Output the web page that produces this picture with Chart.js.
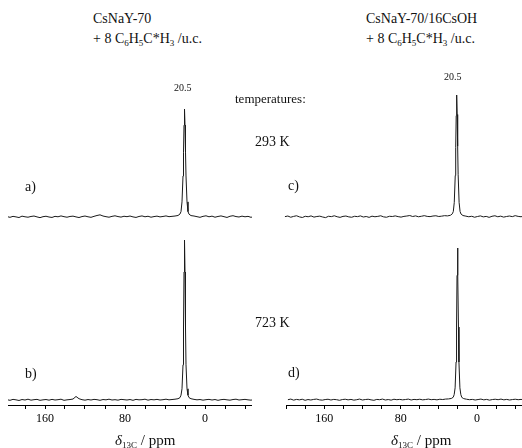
<!DOCTYPE html>
<html>
<head>
<meta charset="UTF-8">
<title>13C MAS NMR</title>
<script src="https://cdn.jsdelivr.net/npm/chart.js"></script>
<style>
    body { margin: 0; background: #fff; }
    #wrap { position: relative; width: 522px; height: 448px; overflow: hidden; }
    canvas { position: absolute; }
    .t { position: absolute; font-family: "Liberation Serif", "Times New Roman", serif; font-size: 14px; line-height: 16px; color: #111; white-space: nowrap; }
    .t sub { font-size: 9px; line-height: 0; vertical-align: -3px; }
    .small { font-size: 10px; line-height: 12px; }
</style>
</head>
<body>
<div id="wrap">
    <canvas id="chartA" width="244" height="170" style="left:8px; top:60px"></canvas>
    <canvas id="chartB" width="244" height="208" style="left:8px; top:232px"></canvas>
    <canvas id="chartC" width="239" height="170" style="left:283px; top:60px"></canvas>
    <canvas id="chartD" width="239" height="208" style="left:283px; top:232px"></canvas>

    <div class="t" style="left:93px; top:11px">CsNaY-70</div>
    <div class="t" style="left:93px; top:31px">+ 8 C<sub>6</sub>H<sub>5</sub>C*H<sub>3</sub> /u.c.</div>
    <div class="t" style="left:366px; top:11px">CsNaY-70/16CsOH</div>
    <div class="t" style="left:366px; top:31px">+ 8 C<sub>6</sub>H<sub>5</sub>C*H<sub>3</sub> /u.c.</div>

    <div class="t small" style="left:174px; top:82px">20.5</div>
    <div class="t small" style="left:444px; top:71px">20.5</div>

    <div class="t" style="left:235px; top:91px; font-size:13px">temperatures:</div>
    <div class="t" style="left:255px; top:134px">293 K</div>
    <div class="t" style="left:255px; top:315px">723 K</div>

    <div class="t" style="left:25px; top:179px">a)</div>
    <div class="t" style="left:25px; top:366px">b)</div>
    <div class="t" style="left:288px; top:178px">c)</div>
    <div class="t" style="left:288px; top:365px">d)</div>

    <div class="t" style="left:115px; top:432px; font-size:15px"><i>&delta;</i><sub>13C</sub> / ppm</div>
    <div class="t" style="left:391px; top:432px; font-size:15px"><i>&delta;</i><sub>13C</sub> / ppm</div>
</div>
<script>
    // chemical shift axis (ppm), shared by all four spectra
    var ppm = [198,195,192,189,186,183,180,177,174,171,
        168,165,162,159,156,153,150,147,144,141,
        138,135,132,129,126,123,120,117,114,111,
        108,105,102,99,96,93,90,87,84,81,
        78,75,72,69,66,63,60,57,54,51,
        48,45,42,39,36,33,30,27,
        25,24,23,22,21.5,21,20.5,20,19.5,19,18,17,16,
        14,11,8,5,2,-1,-4,-7,-10,-13,
        -16,-19,-22,-25,-28,-31,-34,-37,-40,-43,
        -46,-49];

    var tickLabels = [160, 80, 0];

    // a) CsNaY-70, 293 K
    var specA = [0.4,-0.3,0.6,0.1,-0.5,0.8,0.2,-0.2,0.5,0.9,
        0.1,-0.6,0.3,0.7,0.0,-0.4,0.6,0.2,1.0,0.3,
        -0.2,0.5,0.8,0.1,-0.5,0.4,0.9,0.2,-0.3,0.6,
        1.4,2.0,0.9,0.3,-0.2,0.6,1.1,0.4,-0.1,0.7,
        0.3,0.9,0.1,-0.4,0.5,1.0,0.2,0.7,-0.2,0.4,
        0.8,0.1,0.5,1.0,0.3,0.6,0.9,1.4,
        2.8,5,14,38,60,85,100,85,60,38,14,5,2.6,
        1.3,0.9,0.3,-0.3,0.6,1.1,0.2,0.8,-0.2,0.5,
        1.0,0.3,-0.4,0.7,1.2,0.4,0.0,0.8,0.2,0.6,
        -0.3,0.5];

    // b) CsNaY-70, 723 K
    var specB = [0.2,-0.2,0.4,0.1,-0.3,0.3,0.0,0.5,-0.1,0.2,
        0.4,-0.2,0.1,0.3,-0.1,0.4,0.0,0.2,0.5,-0.2,
        0.1,0.3,0.6,2.2,0.8,0.2,-0.1,0.3,0.0,0.4,
        0.2,-0.2,0.3,0.1,0.5,0.0,0.2,-0.1,0.4,0.2,
        0.0,0.3,-0.2,0.4,0.1,0.2,0.5,-0.1,0.3,0.1,
        0.4,0.0,0.2,0.5,0.1,0.3,0.5,0.8,
        1.5,3,7,22,45,80,100,80,45,22,7,3,1.5,
        0.8,0.4,0.1,0.3,-0.1,0.2,0.4,0.0,0.3,-0.2,
        0.2,0.4,0.1,-0.1,0.3,0.5,0.0,0.2,0.4,0.1,
        -0.1,0.3];

    // c) CsNaY-70/16CsOH, 293 K
    var specC = [0.3,0.8,-0.2,0.5,1.0,0.1,-0.4,0.6,0.2,0.9,
        -0.1,0.4,0.7,0.0,-0.5,0.6,0.3,1.0,0.2,-0.3,
        0.5,0.8,0.1,-0.2,0.6,0.3,0.9,0.0,0.4,-0.3,
        0.7,0.2,0.5,1.0,0.1,-0.2,0.6,0.4,0.9,0.3,
        -0.1,0.5,0.8,1.2,0.4,0.9,0.2,0.6,1.1,0.5,
        0.3,0.8,1.0,0.4,0.7,1.1,0.9,1.4,
        2.6,4.5,12,34,57,83,100,84,58,35,12,4.5,2.4,
        1.2,0.7,0.2,0.6,-0.2,0.4,0.9,0.1,0.5,-0.3,
        0.6,1.0,0.2,0.7,-0.1,0.4,0.8,0.3,1.1,0.5,
        0.2,0.8];

    // d) CsNaY-70/16CsOH, 723 K
    var specD = [0.2,0.6,-0.1,0.4,0.1,0.5,-0.2,0.3,0.0,0.4,
        0.6,0.1,-0.1,0.3,0.5,0.0,0.4,0.2,-0.2,0.3,
        0.5,0.1,0.4,-0.1,0.2,0.6,0.0,0.3,0.5,0.1,
        -0.2,0.4,0.2,0.6,0.0,0.3,-0.1,0.5,0.2,0.4,
        0.1,0.3,0.6,0.0,0.4,0.2,0.5,0.1,0.3,0.6,
        0.2,0.4,0.1,0.5,0.3,0.6,0.7,1.0,
        1.8,3.5,8,25,48,82,100,82,48,25,8,3.5,1.7,
        0.9,0.5,0.2,0.4,0.0,0.3,0.6,0.1,0.4,-0.1,
        0.3,0.5,0.2,0.6,0.1,0.4,0.0,0.3,0.5,0.2,
        0.4,0.1];

    // y range so that 0 lands on baseY and 100 on peakY (page pixels)
    function yRange(baseY, peakY, top, bottom) {
        var k = 100 / (baseY - peakY);
        return { min: -(bottom - baseY) * k, max: (baseY - top) * k };
    }

    function makeChart(id, values, xmin, xmax, yr, withAxis) {
        var pts = ppm.map(function (p, i) { return { x: p, y: values[i] }; });
        var xScale = {
            type: 'linear', reverse: true, min: xmin, max: xmax, display: withAxis
        };
        if (withAxis) {
            xScale.border = { display: true, color: '#000', width: 1 };
            xScale.grid = { display: true, drawOnChartArea: false, drawTicks: true, tickLength: 4, color: '#000', tickColor: '#000' };
            xScale.ticks = {
                stepSize: 20, includeBounds: false, autoSkip: false, maxRotation: 0, padding: 3,
                color: '#000', font: { family: 'Liberation Serif', size: 12 },
                callback: function (v) { return tickLabels.indexOf(v) >= 0 ? String(v) : ''; }
            };
            xScale.afterFit = function (s) { s.height = 35; };
        }
        return new Chart(document.getElementById(id), {
            type: 'line',
            data: {
                datasets: [{
                    data: pts,
                    borderColor: '#1a1a1a',
                    borderWidth: 1,
                    pointRadius: 0,
                    fill: false
                }]
            },
            options: {
                responsive: false,
                animation: false,
                devicePixelRatio: 1,
                layout: { padding: 0 },
                plugins: { legend: { display: false }, tooltip: { enabled: false } },
                scales: {
                    x: xScale,
                    y: { display: false, min: yr.min, max: yr.max }
                }
            }
        });
    }

    makeChart('chartA', specA, -47, 197, yRange(217, 109, 60, 230), false);
    makeChart('chartB', specB, -47, 197, yRange(400, 240, 232, 405), true);
    makeChart('chartC', specC, -47, 200, yRange(217, 95, 60, 230), false);
    makeChart('chartD', specD, -47, 200, yRange(400, 248, 232, 405), true);
</script>
</body>
</html>
